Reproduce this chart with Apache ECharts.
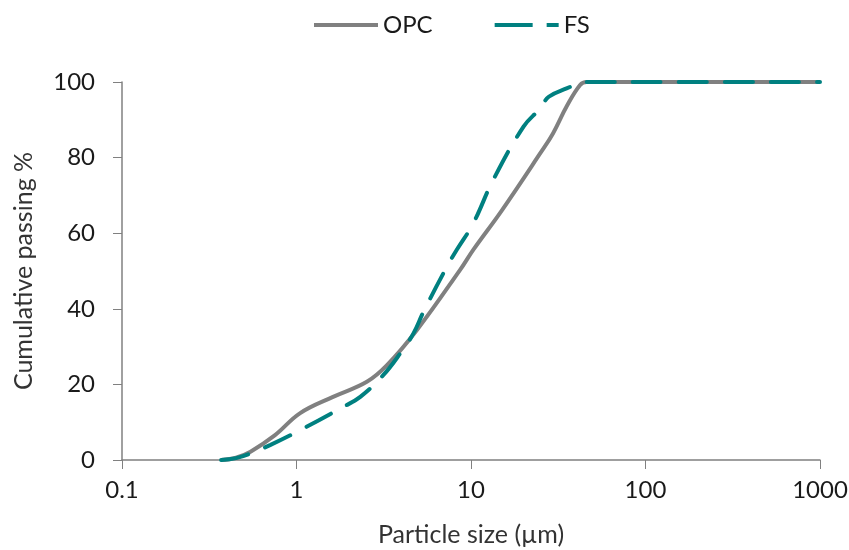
<!DOCTYPE html>
<html><head><meta charset="utf-8">
<script src="https://cdn.jsdelivr.net/npm/echarts@6/dist/echarts.min.js"></script>
<style>html,body{margin:0;padding:0;background:#fff}#c{width:849px;height:550px}</style>
</head><body><div id="c"></div>
<script>
const opcSize = [0.37, 0.45, 0.545, 0.75, 1.05, 1.62, 2.53, 3.3, 4.9, 8.66, 10.3, 15, 24.9, 29.5, 35.3, 42.2, 46, 100, 1000];
const opcPass = [0, 0.6, 2.2, 6.5, 12.4, 16.7, 20.7, 25.1, 34.4, 50.3, 55.6, 66, 81.1, 86.4, 93.5, 99.2, 100, 100, 100];
const fsSize = [0.37, 0.45, 0.55, 0.71, 1.05, 1.86, 2.32, 3.15, 3.93, 4.68, 5.34, 7.27, 8.29, 10.3, 13.4, 20, 24.9, 27.9, 35.3, 42.2, 46, 100, 1000];
const fsPass = [0, 0.5, 1.8, 4, 7.9, 14.1, 16.7, 22.5, 28.2, 33.5, 39.2, 51.1, 55.6, 62.6, 74.1, 88.2, 93, 96.1, 98.3, 99.7, 100, 100, 100];
const yTicks = [0, 20, 40, 60, 80, 100];
const xTicks = ['0.1', '1', '10', '100', '1000'];

const chart = echarts.init(document.getElementById('c'));
const font = 'Lato, "Open Sans", sans-serif';
chart.setOption({
  animation: false,
  textStyle: {fontFamily: font},
  legend: {
    top: 8, left: 309, itemWidth: 64, itemHeight: 14, itemGap: 62,
    textStyle: {fontSize: 24, color: '#1a1a1a', fontFamily: font},
    data: [
      {name: 'OPC', icon: 'path://M0,5 L64,5 L64,9 L0,9 Z'},
      {name: 'FS', icon: 'path://M0,5 L38,5 L38,9 L0,9 Z M52,5 L64,5 L64,9 L52,9 Z'}
    ]
  },
  grid: {left: 122, right: 29, top: 82, bottom: 90, containLabel: false, outerBoundsMode: 'none'},
  xAxis: {
    type: 'log', logBase: 10, min: 0.1, max: 1000,
    name: 'Particle size (µm)', nameLocation: 'middle', nameGap: 62,
    nameTextStyle: {fontSize: 25, color: '#333', fontFamily: font},
    axisLine: {lineStyle: {color: '#808080', width: 1.5}},
    axisTick: {show: true, length: 9, lineStyle: {color: '#808080'}},
    minorTick: {show: false},
    splitLine: {show: false},
    axisLabel: {fontSize: 24, color: '#1a1a1a', margin: 18,
      formatter: v => { const s = xTicks.find(t => Math.abs(parseFloat(t) - v) < 1e-9); return s !== undefined ? s : ''; }}
  },
  yAxis: {
    type: 'value', min: yTicks[0], max: yTicks[yTicks.length - 1], interval: 20,
    name: 'Cumulative passing %', nameLocation: 'middle', nameGap: 86, nameRotate: 90,
    nameTextStyle: {fontSize: 25, color: '#333', fontFamily: font},
    axisLine: {show: true, lineStyle: {color: '#808080', width: 1.5}},
    axisTick: {show: true, length: 9, lineStyle: {color: '#808080'}},
    splitLine: {show: false},
    axisLabel: {fontSize: 24, color: '#1a1a1a', margin: 27}
  },
  series: [
    {name: 'OPC', type: 'line', smooth: 0.4, showSymbol: false, symbol: 'none',
     data: opcSize.map((x, i) => [x, opcPass[i]]),
     lineStyle: {color: '#808080', width: 4}, itemStyle: {color: '#808080'}},
    {name: 'FS', type: 'line', smooth: 0.4, showSymbol: false, symbol: 'none',
     data: fsSize.map((x, i) => [x, fsPass[i]]),
     lineStyle: {color: '#008080', width: 4, type: [28, 18], cap: 'round'}, itemStyle: {color: '#008080'}}
  ]
});
</script></body></html>
